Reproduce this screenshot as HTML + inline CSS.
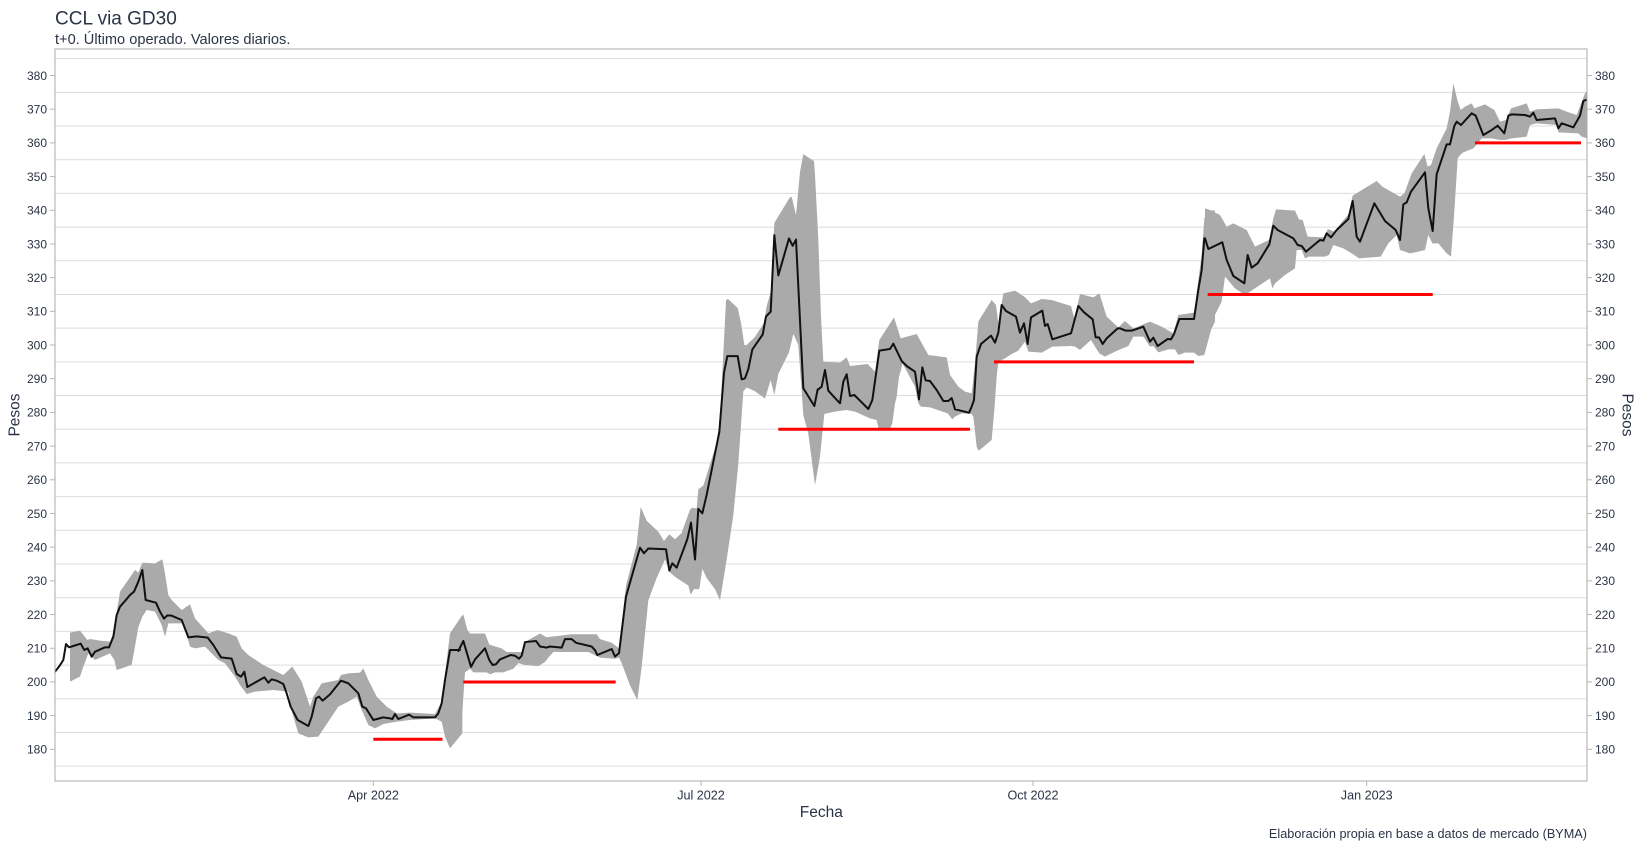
<!DOCTYPE html>
<html><head><meta charset="utf-8"><style>
html,body{margin:0;padding:0;background:#fff;}
svg{display:block;font-family:"Liberation Sans",Arial,sans-serif;}
</style></head><body>
<svg width="1643" height="848" viewBox="0 0 1643 848" xmlns="http://www.w3.org/2000/svg">
<defs><clipPath id="pc"><rect x="55" y="49" width="1532" height="732"/></clipPath></defs>
<rect width="1643" height="848" fill="#fff"/>
<text x="55" y="24.3" font-size="19" fill="#2b3445">CCL via GD30</text>
<text x="55" y="44" font-size="14.6" fill="#2b3445">t+0. Último operado. Valores diarios.</text>
<g stroke="#dcdcdc" stroke-width="1">
<line x1="55" x2="1587" y1="58.66" y2="58.66"/><line x1="55" x2="1587" y1="92.35" y2="92.35"/><line x1="55" x2="1587" y1="126.03" y2="126.03"/><line x1="55" x2="1587" y1="159.72" y2="159.72"/><line x1="55" x2="1587" y1="193.41" y2="193.41"/><line x1="55" x2="1587" y1="227.1" y2="227.1"/><line x1="55" x2="1587" y1="260.79" y2="260.79"/><line x1="55" x2="1587" y1="294.48" y2="294.48"/><line x1="55" x2="1587" y1="328.17" y2="328.17"/><line x1="55" x2="1587" y1="361.86" y2="361.86"/><line x1="55" x2="1587" y1="395.55" y2="395.55"/><line x1="55" x2="1587" y1="429.24" y2="429.24"/><line x1="55" x2="1587" y1="462.93" y2="462.93"/><line x1="55" x2="1587" y1="496.62" y2="496.62"/><line x1="55" x2="1587" y1="530.31" y2="530.31"/><line x1="55" x2="1587" y1="564" y2="564"/><line x1="55" x2="1587" y1="597.69" y2="597.69"/><line x1="55" x2="1587" y1="631.38" y2="631.38"/><line x1="55" x2="1587" y1="665.07" y2="665.07"/><line x1="55" x2="1587" y1="698.76" y2="698.76"/><line x1="55" x2="1587" y1="732.45" y2="732.45"/><line x1="55" x2="1587" y1="766.14" y2="766.14"/>
</g>
<g clip-path="url(#pc)">
<g fill="#aaaaaa" stroke="none">
<g transform="translate(55,540) scale(0.333333)">
<polygon points="45,278 75,272 97,300 105,297 135,302 165,305 175,280 195,155 240,90 250,98 262,68 300,70 322,58 330,100 340,165 350,180 380,210 405,193 420,235 460,280 488,270 520,280 545,290 560,325 580,345 625,375 685,405 712,380 740,425 765,500 775,470 800,430 850,420 858,405 880,400 915,398 925,385 940,420 965,470 995,500 1025,520 1065,518 1140,522 1160,485 1185,280 1222,225 1222,580 1185,625 1170,590 1160,545 1140,535 1065,540 1025,545 985,552 960,565 940,555 920,510 905,470 880,485 850,500 790,590 760,592 730,580 712,520 700,455 655,450 600,455 575,462 555,435 540,410 510,370 490,360 450,320 420,325 405,320 385,250 340,250 330,290 320,255 300,215 275,210 262,230 250,262 230,375 185,390 178,360 165,340 120,360 100,340 85,380 75,410 45,425"/>
</g>
<g transform="translate(440,160) scale(0.333333,0.36996)">
<polygon points="55,1255 70,1228 82,1270 90,1280 135,1280 148,1310 185,1320 200,1330 245,1330 260,1300 300,1280 320,1290 395,1282 470,1282 480,1295 515,1305 537,1320 558,1150 590,1040 602,938 620,975 655,1005 672,1030 688,1012 705,1025 725,1008 750,945 757,940 770,942 775,890 790,880 830,765 840,700 858,380 863,375 893,400 903,440 913,500 920,500 945,478 972,440 980,395 993,355 1003,170 1048,103 1055,99 1068,149 1080,32 1090,-16 1122,3 1125,40 1125,878 1105,740 1090,690 1075,500 1060,470 1047,520 1015,578 1003,635 992,595 975,645 945,625 920,615 910,625 895,820 880,960 860,1080 840,1190 825,1160 800,1130 787,1105 778,1160 762,1160 752,1175 745,1150 710,1130 690,1115 675,1080 650,1130 625,1190 605,1370 592,1460 570,1420 545,1360 537,1345 525,1348 480,1345 445,1330 340,1330 325,1345 315,1357 295,1368 255,1365 235,1360 220,1375 190,1385 165,1385 150,1390 140,1385 100,1385 90,1375 75,1385 65,1520 55,1560"/>
</g>
<g transform="translate(815,190) scale(0.333333)">
<polygon points="0,-45 10,150 18,380 25,515 75,518 95,502 105,528 158,522 180,545 193,450 237,382 257,445 305,432 340,495 395,502 405,555 430,590 450,605 470,610 480,520 490,395 497,383 530,330 543,345 550,400 565,310 600,302 628,320 648,340 680,327 710,330 768,348 778,385 795,312 835,322 853,310 875,380 910,412 930,393 955,415 1005,395 1040,410 1075,430 1090,375 1137,368 1160,195 1168,85 1180,60 1200,62 1200,395 1188,420 1168,495 1150,498 1137,488 1110,488 1090,495 1080,478 1060,478 1030,487 1015,468 1005,470 985,440 955,440 940,468 918,477 900,485 870,500 853,490 840,470 828,450 795,480 780,470 770,468 712,470 680,488 640,485 630,455 610,482 590,492 570,505 550,515 545,560 538,660 530,750 500,775 490,782 485,770 475,680 470,672 440,670 420,680 412,688 398,670 345,652 318,650 310,640 300,590 268,530 262,520 258,540 252,560 245,620 240,640 232,700 222,722 192,722 185,690 165,685 120,665 95,660 60,665 35,670 28,672 15,800 8,840 0,885"/>
</g>
<g transform="translate(1205,75) scale(0.333333)">
<polygon points="0,400 10,403 45,420 65,455 85,445 125,465 150,515 192,495 205,430 213,403 270,407 282,433 293,435 308,485 360,487 368,462 387,470 430,418 443,362 515,318 532,335 585,365 598,355 620,295 658,237 668,275 678,270 695,220 725,160 735,110 745,25 757,75 767,105 780,95 800,85 808,100 840,88 868,105 885,140 903,135 918,100 965,85 975,110 995,103 1060,100 1085,110 1115,120 1140,55 1150,42 1150,192 1147,190 1130,185 1120,175 1060,172 1055,150 995,145 975,150 965,185 920,190 900,195 885,195 860,190 840,190 830,190 805,220 775,232 765,240 758,250 748,410 738,545 725,535 700,505 682,505 670,480 660,525 640,530 615,535 585,525 575,480 550,505 527,545 462,550 440,535 415,520 385,510 372,540 360,545 312,545 300,550 290,525 275,525 270,580 240,600 210,625 202,640 195,610 165,630 120,660 90,640 60,605 50,680 30,720 10,770 0,830"/>
</g>
</g>
<g fill="none" stroke="#111" stroke-width="2" stroke-linejoin="round" stroke-linecap="round">
<g transform="translate(55,540) scale(0.333333)">
<polyline vector-effect="non-scaling-stroke" points="0,395 12,380 25,360 33,312 42,322 55,318 77,311 88,330 98,325 110,350 120,335 150,322 162,322 175,290 185,225 195,200 210,183 225,165 237,155 250,125 262,90 272,180 303,188 315,215 327,236 337,226 350,227 380,240 400,292 425,289 458,293 475,315 498,352 530,356 545,402 558,410 568,395 577,441 628,412 640,428 650,418 665,422 685,432 695,460 707,500 728,540 760,558 770,530 783,475 792,470 803,482 825,463 858,422 880,430 910,460 922,500 933,505 955,540 985,532 1005,535 1012,537 1020,522 1030,537 1062,524 1075,532 1140,532 1150,520 1160,490 1170,420 1185,330 1215,330"/>
</g>
<g transform="translate(440,160) scale(0.333333,0.36996)">
<polyline vector-effect="non-scaling-stroke" points="55,1327 70,1300 93,1370 105,1350 135,1320 148,1352 158,1365 168,1363 180,1350 212,1338 225,1340 237,1348 245,1340 255,1303 288,1300 300,1315 320,1318 330,1315 365,1318 375,1295 395,1295 408,1305 455,1315 465,1325 472,1338 515,1322 525,1342 537,1333 558,1180 600,1048 612,1063 625,1050 678,1052 688,1110 697,1090 710,1102 742,1025 753,980 765,1080 775,943 787,955 800,905 838,735 852,575 862,530 893,530 905,593 915,590 925,565 937,512 968,472 978,423 992,410 1003,203 1015,312 1047,212 1058,232 1068,215 1090,617 1123,665 1133,620"/>
</g>
<g transform="translate(815,190) scale(0.333333)">
<polyline vector-effect="non-scaling-stroke" points="10,598 20,590 30,540 40,602 58,622 75,640 85,575 95,553 105,618 118,615 140,637 160,657 172,630 193,482 225,477 235,461 248,488 260,513 275,528 300,545 312,628 322,532 332,571 345,573 365,600 385,633 400,633 410,624 420,658 462,668 470,650 477,630 485,500 498,462 528,437 540,458 550,428 560,345 573,363 603,380 615,428 627,400 638,462 648,382 682,362 690,408 698,402 712,448 768,430 790,348 807,367 833,388 842,442 852,442 863,462 875,445 908,415 915,415 932,422 950,422 985,410 1005,455 1015,443 1028,468 1058,447 1068,448 1077,432 1093,387 1137,387 1150,300 1160,240 1168,145"/>
</g>
<g transform="translate(1205,75) scale(0.333333)">
<polyline vector-effect="non-scaling-stroke" points="0,490 10,522 52,502 65,555 85,603 118,625 128,540 140,578 158,565 193,508 205,452 218,465 265,490 278,510 290,513 303,530 345,495 355,497 365,475 378,487 395,465 430,432 443,378 455,485 465,500 508,385 540,438 572,465 585,495 595,388 605,382 618,350 660,292 670,400 683,468 695,298 725,208 735,208 748,153 755,140 768,150 800,115 812,122 835,180 860,165 878,152 898,175 910,122 920,118 960,120 975,125 985,113 995,135 1050,130 1060,160 1070,145 1105,157 1125,122 1135,78 1150,72"/>
</g>
</g>
<g stroke="#ff0000" stroke-width="3">
<line x1="373.3" x2="442.5" y1="739.2" y2="739.2"/>
<line x1="463.3" x2="615.7" y1="682" y2="682"/>
<line x1="778.3" x2="970" y1="429.2" y2="429.2"/>
<line x1="994" x2="1194" y1="361.9" y2="361.9"/>
<line x1="1207.7" x2="1432.7" y1="294.5" y2="294.5"/>
<line x1="1475" x2="1581" y1="142.9" y2="142.9"/>
</g>
</g>
<rect x="55" y="49" width="1532" height="732" fill="none" stroke="#ababab" stroke-width="1"/>
<g stroke="#b5b5b5" stroke-width="1">
<line x1="50" x2="55" y1="75.5" y2="75.5"/><line x1="50" x2="55" y1="109.19" y2="109.19"/><line x1="50" x2="55" y1="142.88" y2="142.88"/><line x1="50" x2="55" y1="176.57" y2="176.57"/><line x1="50" x2="55" y1="210.26" y2="210.26"/><line x1="50" x2="55" y1="243.95" y2="243.95"/><line x1="50" x2="55" y1="277.64" y2="277.64"/><line x1="50" x2="55" y1="311.33" y2="311.33"/><line x1="50" x2="55" y1="345.02" y2="345.02"/><line x1="50" x2="55" y1="378.71" y2="378.71"/><line x1="50" x2="55" y1="412.4" y2="412.4"/><line x1="50" x2="55" y1="446.09" y2="446.09"/><line x1="50" x2="55" y1="479.78" y2="479.78"/><line x1="50" x2="55" y1="513.47" y2="513.47"/><line x1="50" x2="55" y1="547.16" y2="547.16"/><line x1="50" x2="55" y1="580.85" y2="580.85"/><line x1="50" x2="55" y1="614.54" y2="614.54"/><line x1="50" x2="55" y1="648.23" y2="648.23"/><line x1="50" x2="55" y1="681.92" y2="681.92"/><line x1="50" x2="55" y1="715.61" y2="715.61"/><line x1="50" x2="55" y1="749.3" y2="749.3"/>
<line x1="1587" x2="1592" y1="75.5" y2="75.5"/><line x1="1587" x2="1592" y1="109.19" y2="109.19"/><line x1="1587" x2="1592" y1="142.88" y2="142.88"/><line x1="1587" x2="1592" y1="176.57" y2="176.57"/><line x1="1587" x2="1592" y1="210.26" y2="210.26"/><line x1="1587" x2="1592" y1="243.95" y2="243.95"/><line x1="1587" x2="1592" y1="277.64" y2="277.64"/><line x1="1587" x2="1592" y1="311.33" y2="311.33"/><line x1="1587" x2="1592" y1="345.02" y2="345.02"/><line x1="1587" x2="1592" y1="378.71" y2="378.71"/><line x1="1587" x2="1592" y1="412.4" y2="412.4"/><line x1="1587" x2="1592" y1="446.09" y2="446.09"/><line x1="1587" x2="1592" y1="479.78" y2="479.78"/><line x1="1587" x2="1592" y1="513.47" y2="513.47"/><line x1="1587" x2="1592" y1="547.16" y2="547.16"/><line x1="1587" x2="1592" y1="580.85" y2="580.85"/><line x1="1587" x2="1592" y1="614.54" y2="614.54"/><line x1="1587" x2="1592" y1="648.23" y2="648.23"/><line x1="1587" x2="1592" y1="681.92" y2="681.92"/><line x1="1587" x2="1592" y1="715.61" y2="715.61"/><line x1="1587" x2="1592" y1="749.3" y2="749.3"/>
<line x1="373.3" x2="373.3" y1="781" y2="786"/><line x1="701" x2="701" y1="781" y2="786"/><line x1="1033" x2="1033" y1="781" y2="786"/><line x1="1366.7" x2="1366.7" y1="781" y2="786"/>
</g>
<g font-size="12" fill="#2b3445" text-anchor="end">
<text x="47" y="79.8">380</text><text x="47" y="113.5">370</text><text x="47" y="147.2">360</text><text x="47" y="180.9">350</text><text x="47" y="214.6">340</text><text x="47" y="248.3">330</text><text x="47" y="281.9">320</text><text x="47" y="315.6">310</text><text x="47" y="349.3">300</text><text x="47" y="383">290</text><text x="47" y="416.7">280</text><text x="47" y="450.4">270</text><text x="47" y="484.1">260</text><text x="47" y="517.8">250</text><text x="47" y="551.5">240</text><text x="47" y="585.2">230</text><text x="47" y="618.8">220</text><text x="47" y="652.5">210</text><text x="47" y="686.2">200</text><text x="47" y="719.9">190</text><text x="47" y="753.6">180</text>
</g>
<g font-size="12" fill="#2b3445" text-anchor="start">
<text x="1595" y="79.8">380</text><text x="1595" y="113.5">370</text><text x="1595" y="147.2">360</text><text x="1595" y="180.9">350</text><text x="1595" y="214.6">340</text><text x="1595" y="248.3">330</text><text x="1595" y="281.9">320</text><text x="1595" y="315.6">310</text><text x="1595" y="349.3">300</text><text x="1595" y="383">290</text><text x="1595" y="416.7">280</text><text x="1595" y="450.4">270</text><text x="1595" y="484.1">260</text><text x="1595" y="517.8">250</text><text x="1595" y="551.5">240</text><text x="1595" y="585.2">230</text><text x="1595" y="618.8">220</text><text x="1595" y="652.5">210</text><text x="1595" y="686.2">200</text><text x="1595" y="719.9">190</text><text x="1595" y="753.6">180</text>
</g>
<g font-size="12.6" fill="#2b3445" text-anchor="middle">
<text x="373.3" y="799.5">Apr 2022</text><text x="701" y="799.5">Jul 2022</text><text x="1033" y="799.5">Oct 2022</text><text x="1366.7" y="799.5">Jan 2023</text>
</g>
<text x="821.3" y="817" font-size="15.5" fill="#2b3445" text-anchor="middle">Fecha</text>
<text transform="translate(19.3,415) rotate(-90)" font-size="15.5" fill="#2b3445" text-anchor="middle">Pesos</text>
<text transform="translate(1622.5,415) rotate(90)" font-size="15.5" fill="#2b3445" text-anchor="middle">Pesos</text>
<text x="1587" y="838" font-size="12.7" fill="#2b3445" text-anchor="end">Elaboración propia en base a datos de mercado (BYMA)</text>
</svg>
</body></html>
